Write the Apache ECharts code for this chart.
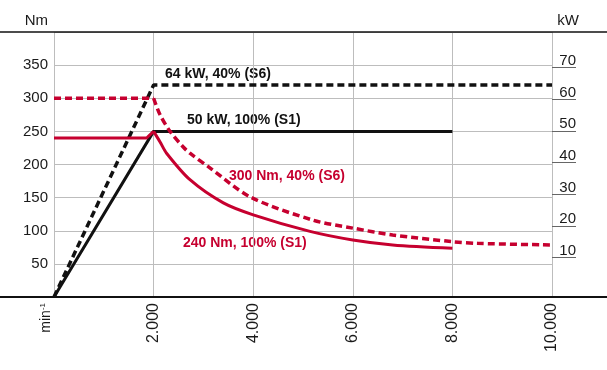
<!DOCTYPE html>
<html><head><meta charset="utf-8">
<script src="https://cdn.jsdelivr.net/npm/echarts@6/dist/echarts.min.js"></script>
<style>html,body{margin:0;padding:0;background:#fff}#c{width:607px;height:370px}</style>
</head><body><div id="c"></div>
<script>
// x: speed (min^-1)
const xTicks = [0, 2000, 4000, 6000, 8000, 10000];
const xTickLabels = ['', '2.000', '4.000', '6.000', '8.000', '10.000'];
// left axis: torque Nm
const nmTickLabels = [50, 100, 150, 200, 250, 300, 350];
// right axis: power kW
const kwTickLabels = [10, 20, 30, 40, 50, 60, 70];

// Torque curves (Nm)
const torqueS1Flat = [[0, 240], [1860, 240], [2000, 250]];
const torqueS1Curve = [[2000, 250], [2130, 234], [2260, 217], [2730, 177], [3400, 142], [4000, 124], [5140, 99], [6000, 86], [6800, 78.5], [8000, 73.5]];
const torqueS6Flat = [[0, 300], [2000, 300]];
const torqueS6Curve = [[2000, 300], [2130, 275], [2330, 250], [2600, 226], [2730, 217], [3130, 195], [3940, 151], [5200, 116], [6000, 104], [6800, 93.6], [8000, 83.5], [8500, 81], [10000, 78.5]];
// Power curves (kW)
const powerS1 = [[0, 0], [2000, 50], [8000, 50]];
const powerS6 = [[0, 0], [2000, 64], [10000, 64]];

const RED = '#C6002F';
const FONT = 'Liberation Sans, Arial, sans-serif';

const chart = echarts.init(document.getElementById('c'));
const lbl = (obj) => Object.assign({fontFamily: FONT, color: '#1a1a1a'}, obj);

chart.setOption({
  animation: false,
  grid: {left: 54, right: 55, top: 32, bottom: 73},
  xAxis: {
    type: 'value', min: 0, max: 10000, interval: 2000,
    axisLine: {show: false}, axisTick: {show: false},
    splitLine: {show: true, lineStyle: {color: '#bdbdbd', width: 1}},
    axisLabel: lbl({fontSize: 16, rotate: 90, margin: 6,
      formatter: v => xTickLabels[xTicks.indexOf(v)] || ''})
  },
  yAxis: [
    {
      type: 'value', min: 0, max: 400, interval: 50,
      axisLine: {show: false}, axisTick: {show: false},
      splitLine: {show: true, lineStyle: {color: '#bdbdbd', width: 1}},
      axisLabel: lbl({fontSize: 15, margin: 6, padding: [0, 0, 5, 0],
        formatter: v => nmTickLabels.includes(v) ? String(v) : ''})
    },
    {
      type: 'value', min: 0, max: 80, show: false
    },
    {
      type: 'value', position: 'right', min: -2.4, max: 81.28,
      axisLine: {show: false}, splitLine: {show: false},
      axisTick: {show: true, inside: false, length: 24, customValues: kwTickLabels,
        lineStyle: {color: '#666', width: 1}},
      axisLabel: lbl({fontSize: 15, margin: 24, align: 'right', verticalAlign: 'bottom',
        lineHeight: 14, customValues: kwTickLabels, formatter: v => String(v)})
    }
  ],
  series: [
    {type: 'line', data: powerS1, yAxisIndex: 1, symbol: 'none', z: 3,
      lineStyle: {color: '#111', width: 3}},
    {type: 'line', data: powerS6, yAxisIndex: 1, symbol: 'none', z: 3,
      lineStyle: {color: '#111', width: 3.5, type: [7, 4]}},
    {type: 'line', data: torqueS1Flat, symbol: 'none', z: 4,
      lineStyle: {color: RED, width: 3}},
    {type: 'line', data: torqueS1Curve, symbol: 'none', z: 4, smooth: 0.3,
      lineStyle: {color: RED, width: 3}},
    {type: 'line', data: torqueS6Flat, symbol: 'none', z: 4,
      lineStyle: {color: RED, width: 3.5, type: [7, 4]}},
    {type: 'line', data: torqueS6Curve, symbol: 'none', z: 4, smooth: 0.3,
      lineStyle: {color: RED, width: 3.5, type: [7, 4]}}
  ],
  graphic: [
    {type: 'line', shape: {x1: 0, y1: 32, x2: 607, y2: 32}, style: {stroke: '#111', lineWidth: 1.5}, z: 10},
    {type: 'line', shape: {x1: 0, y1: 297, x2: 607, y2: 297}, style: {stroke: '#111', lineWidth: 2}, z: 10},
    {type: 'text', x: 48, y: 21, style: {text: 'Nm', font: '15px ' + FONT, fill: '#1a1a1a', textAlign: 'right', textVerticalAlign: 'middle'}},
    {type: 'text', x: 579, y: 21, style: {text: 'kW', font: '15px ' + FONT, fill: '#1a1a1a', textAlign: 'right', textVerticalAlign: 'middle'}},
    {type: 'text', x: 46, y: 303, rotation: Math.PI / 2,
      style: {rich: {a: {font: '14px ' + FONT, fill: '#1a1a1a'}, b: {font: '8px ' + FONT, fill: '#1a1a1a', verticalAlign: 'top'}},
        text: '{a|min}{b|-1}', fill: '#1a1a1a', textAlign: 'right', textVerticalAlign: 'middle'}},
    {type: 'text', x: 165, y: 74, style: {text: '64 kW, 40% (S6)', font: 'bold 14px ' + FONT, fill: '#111', textVerticalAlign: 'middle'}},
    {type: 'text', x: 187, y: 120, style: {text: '50 kW, 100% (S1)', font: 'bold 14px ' + FONT, fill: '#111', textVerticalAlign: 'middle'}},
    {type: 'text', x: 229, y: 176, style: {text: '300 Nm, 40% (S6)', font: 'bold 14px ' + FONT, fill: RED, textVerticalAlign: 'middle'}},
    {type: 'text', x: 183, y: 243, style: {text: '240 Nm, 100% (S1)', font: 'bold 14px ' + FONT, fill: RED, textVerticalAlign: 'middle'}}
  ]
});
</script></body></html>
